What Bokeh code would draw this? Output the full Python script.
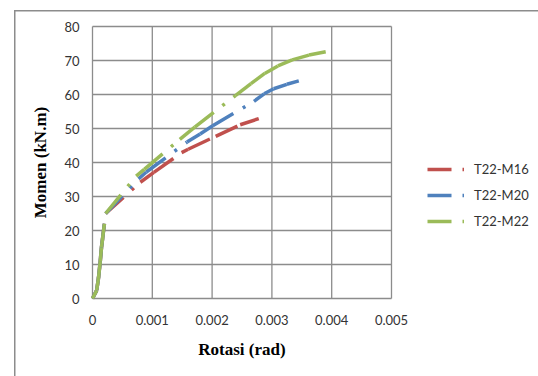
from bokeh.plotting import figure
from bokeh.models import (ColumnDataSource, Range1d, FixedTicker, Legend,
                          LegendItem, LinearAxis)
from bokeh.embed import file_html
from bokeh.resources import INLINE

# Moment-rotation readings for the three specimens
rot_m16 = [0, 0.00007, 0.0001, 0.00013, 0.00015, 0.00022, 0.0008, 0.001026,
           0.00149, 0.0016, 0.00206, 0.00247, 0.00278]
mom_m16 = [0, 2.4, 6, 11, 15, 25, 34.2, 37.1, 42.9, 43.9, 47.7, 51.1, 52.9]

rot_m20 = [0, 0.00007, 0.0001, 0.00013, 0.00015, 0.00022, 0.00077, 0.0009,
           0.00158, 0.0018, 0.00201, 0.0027, 0.00287, 0.00303, 0.00325, 0.00345]
mom_m20 = [0, 2.4, 6, 11, 15, 25, 35.2, 37.2, 46, 48.4, 50.8, 58, 60.2, 61.7,
           63, 64]

rot_m22 = [0, 0.00007, 0.0001, 0.00013, 0.00015, 0.00022, 0.00073, 0.000865,
           0.00146, 0.00171, 0.00239, 0.00265, 0.00288, 0.0031, 0.00334,
           0.00362, 0.0039]
mom_m22 = [0, 2.4, 6, 11, 15, 25, 36, 38, 46.8, 50.4, 59.7, 63.2, 66.2, 68.4,
           70.2, 71.6, 72.6]

series_names = ["T22-M16", "T22-M20", "T22-M22"]
series_colors = ["#C0504D", "#4F81BD", "#9BBB59"]

x_ticks = [0, 0.001, 0.002, 0.003, 0.004, 0.005]
x_tick_labels = ["0", "0.001", "0.002", "0.003", "0.004", "0.005"]
y_ticks = [0, 10, 20, 30, 40, 50, 60, 70, 80]
y_tick_labels = ["0", "10", "20", "30", "40", "50", "60", "70", "80"]
x_title = "Rotasi (rad)"
y_title = "Momen (kN.m)"

GRID = "#8c8c8c"
TEXT = "#333333"

# pixel scale of the plot area: 299 px per 0.005 rad, 3.4 px per kN.m
PX_X = 299 / 0.005
PX_Y = 3.4
PAD = 4  # px of room round the plot box so its edges are not clipped

W, H = 538, 376
left, top, bottom = 92 - PAD, 26 - PAD, 78 - PAD
x_start = -PAD / PX_X
x_end = x_start + (W - left) / PX_X
y_start = -PAD / PX_Y
y_end = 80 + PAD / PX_Y

p = figure(width=W, height=H, output_backend="svg", toolbar_location=None,
           x_range=Range1d(x_start, x_end), y_range=Range1d(y_start, y_end))
p.min_border_left = left
p.min_border_right = 0
p.min_border_top = top
p.min_border_bottom = bottom
p.background_fill_color = "white"
p.border_fill_color = None
p.outline_line_color = None
p.xgrid.visible = False
p.ygrid.visible = False
# chart-area border: thin grey edge on the left and top of the page
p.styles = {
    "background-color": "white",
    "box-shadow": "inset 14px 10px 0 0 #ffffff, inset 15.5px 11.5px 0 0 #8c8c8c",
}


def plain(ax):
    ax.axis_line_color = None
    ax.major_tick_line_color = None
    ax.minor_tick_line_color = None
    ax.major_tick_out = 0
    ax.major_tick_in = 0


for ax in (p.xaxis[0], p.yaxis[0]):
    plain(ax)
    ax.major_label_text_font = "Lato"
    ax.major_label_text_font_size = "13px"
    ax.major_label_text_color = TEXT
    ax.axis_label_text_font = "Liberation Serif"
    ax.axis_label_text_font_style = "bold"
    ax.axis_label_text_font_size = "17px"
    ax.axis_label_text_color = "black"

p.xaxis.ticker = FixedTicker(ticks=x_ticks)
p.yaxis.ticker = FixedTicker(ticks=y_ticks)
p.xaxis.major_label_overrides = dict(zip(x_ticks, x_tick_labels))
p.yaxis.major_label_overrides = dict(zip(y_ticks, y_tick_labels))
p.xaxis.major_label_standoff = 16 - PAD
p.yaxis.major_label_standoff = 13 - PAD
p.yaxis.axis_label = y_title
p.yaxis.axis_label_standoff = 11

# x title sits under the middle of the 0..0.005 span, not the whole frame
x_mid = (x_ticks[0] + x_ticks[-1]) / 2
title_axis = LinearAxis(ticker=FixedTicker(ticks=[x_mid]),
                        major_label_overrides={x_mid: x_title})
plain(title_axis)
title_axis.major_label_text_font = "Liberation Serif"
title_axis.major_label_text_font_style = "bold"
title_axis.major_label_text_font_size = "17px"
title_axis.major_label_text_color = "black"
title_axis.major_label_standoff = 12
p.add_layout(title_axis, "below")

# plot-area box and gridlines, limited to 0..0.005 rad and 0..80 kN.m
vx = x_ticks
hy = y_ticks
p.segment(x0=vx, y0=[y_ticks[0]] * len(vx), x1=vx, y1=[y_ticks[-1]] * len(vx),
          line_color=GRID, line_width=1.3)
p.segment(x0=[x_ticks[0]] * len(hy), y0=hy, x1=[x_ticks[-1]] * len(hy), y1=hy,
          line_color=GRID, line_width=1.3)

# each chord restarts the long-dash-dot pattern, as spreadsheet charts do
items = []
for name, color, xs, ys in zip(series_names, series_colors,
                               [rot_m16, rot_m20, rot_m22],
                               [mom_m16, mom_m20, mom_m22]):
    src = ColumnDataSource(dict(x0=xs[:-1], y0=ys[:-1], x1=xs[1:], y1=ys[1:]))
    r = p.segment(x0="x0", y0="y0", x1="x1", y1="y1", source=src,
                  line_color=color, line_width=3.5, line_dash="24 11 3 11",
                  line_cap="butt")
    items.append(LegendItem(label=name, renderers=[r]))

legend = Legend(items=items, location=(339, 73), orientation="vertical",
                glyph_width=37, glyph_height=16, label_height=16,
                spacing=10, padding=5, margin=0, label_standoff=10,
                label_text_font="Lato", label_text_font_size="13px",
                label_text_color=TEXT, border_line_color=None,
                background_fill_alpha=0)
p.add_layout(legend, "center")

open("out.html", "w").write(file_html(p, INLINE))
